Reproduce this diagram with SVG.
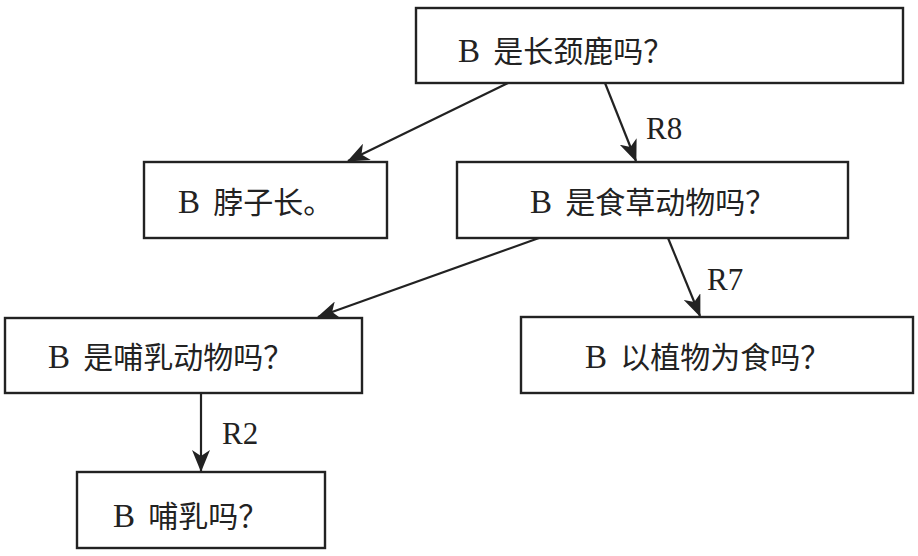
<svg xmlns="http://www.w3.org/2000/svg" width="918" height="556" viewBox="0 0 918 556">
<defs>
<style>
.box{fill:#fff;stroke:#222;stroke-width:2.4}
.t{font-family:"Liberation Serif","Noto Sans CJK SC",serif;font-size:30px;fill:#222}
.b{font-size:33px}
.lbl{font-family:"Liberation Serif",serif;font-size:31px;fill:#222}
.edge{stroke:#222;stroke-width:2.2;fill:none;marker-end:url(#ah)}
</style>
<marker id="ah" viewBox="0 0 22 18" refX="21" refY="9" markerWidth="22" markerHeight="18" orient="auto" markerUnits="userSpaceOnUse">
<path d="M22,9 L0,0 L6,9 L0,18 Z" fill="#222"/>
</marker>
</defs>
<rect width="918" height="556" fill="#fff"/>
<g id="edges">
<line class="edge" x1="508" y1="83" x2="348" y2="161"/>
<line class="edge" x1="605" y1="83" x2="636" y2="161"/>
<line class="edge" x1="539" y1="238" x2="318" y2="317"/>
<line class="edge" x1="668" y1="238" x2="700" y2="316"/>
<line class="edge" x1="201" y1="393" x2="201" y2="471"/>
<text class="lbl" x="646" y="139">R8</text>
<text class="lbl" x="707" y="290">R7</text>
<text class="lbl" x="222" y="444">R2</text>
</g>
<g id="n1"><rect class="box" x="416" y="8" width="487" height="75"/><text class="t" x="458" y="62"><tspan class="b">B </tspan><tspan dx="5">是长颈鹿吗？</tspan></text></g>
<g id="n2"><rect class="box" x="144" y="162" width="243" height="76"/><text class="t" x="178" y="213"><tspan class="b">B </tspan><tspan dx="5">脖子长。</tspan></text></g>
<g id="n3"><rect class="box" x="457" y="162" width="391" height="76"/><text class="t" x="530" y="213"><tspan class="b">B </tspan><tspan dx="5">是食草动物吗？</tspan></text></g>
<g id="n4"><rect class="box" x="5" y="318" width="357" height="75"/><text class="t" x="48" y="368"><tspan class="b">B </tspan><tspan dx="5">是哺乳动物吗？</tspan></text></g>
<g id="n5"><rect class="box" x="77" y="472" width="248" height="76"/><text class="t" x="113" y="527"><tspan class="b">B </tspan><tspan dx="5">哺乳吗？</tspan></text></g>
<g id="n6"><rect class="box" x="521" y="317" width="392" height="76"/><text class="t" x="585" y="368"><tspan class="b">B </tspan><tspan dx="5">以植物为食吗？</tspan></text></g>
</svg>
